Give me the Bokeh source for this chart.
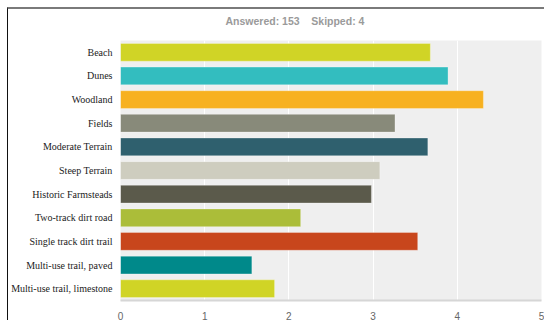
from bokeh.plotting import figure
from bokeh.models import FactorRange, Range1d, ColumnDataSource, FixedTicker, Title
from bokeh.embed import file_html
from bokeh.resources import INLINE

categories = ["Beach", "Dunes", "Woodland", "Fields", "Moderate Terrain", "Steep Terrain",
              "Historic Farmsteads", "Two-track dirt road", "Single track dirt trail",
              "Multi-use trail, paved", "Multi-use trail, limestone"]
values = [3.68, 3.89, 4.31, 3.26, 3.65, 3.08, 2.98, 2.14, 3.53, 1.56, 1.83]
colors = ["#d0d426", "#33bdbf", "#f7b120", "#888a7a", "#2f606e", "#cecdbf",
          "#5b5a4b", "#abbd39", "#c8461c", "#00898a", "#d0d426"]
x_ticks = [0, 1, 2, 3, 4, 5]
title_text = "Answered: 153\u00a0\u00a0\u00a0 Skipped: 4"

src = ColumnDataSource(dict(cat=categories, val=values, color=colors))

p = figure(width=537, height=313, output_backend="svg", toolbar_location=None,
           y_range=FactorRange(factors=list(reversed(categories))),
           x_range=Range1d(0, 5), title=title_text)
p.styles = {"border-top": "2px solid #7a7a7a", "border-left": "1px solid #111111",
            "margin-top": "7px", "margin-left": "7px"}

p.hbar(y="cat", right="val", left=0, height=0.75, fill_color="color",
       line_color="white", line_alpha=0.3, line_width=1, source=src)

p.min_border_left = 110
p.min_border_right = 4
p.min_border_top = 31
p.min_border_bottom = 20
p.background_fill_color = "#efefef"
p.border_fill_color = "white"
p.outline_line_color = None

# spacer between title and plot area
p.add_layout(Title(text=" ", text_font_size="8px", standoff=1), "above")

p.title.align = "left"
p.title.offset = 105
p.title.standoff = 4
p.title.text_color = "#9a9a9a"
p.title.text_font = "Liberation Sans"
p.title.text_font_size = "10.5px"
p.title.text_font_style = "bold"

p.xgrid.grid_line_color = "white"
p.xgrid.grid_line_width = 1
p.ygrid.grid_line_color = None

p.xaxis.ticker = FixedTicker(ticks=x_ticks)
p.xaxis.major_tick_line_color = None
p.xaxis.minor_tick_line_color = None
p.xaxis.axis_line_color = "#d6d6d6"
p.xaxis.axis_line_width = 2
p.xaxis.major_label_text_font = "Liberation Sans"
p.xaxis.major_label_text_font_size = "10px"
p.xaxis.major_label_text_color = "#666666"
p.xaxis.major_label_standoff = 5

p.yaxis.major_tick_line_color = None
p.yaxis.minor_tick_line_color = None
p.yaxis.axis_line_color = None
p.yaxis.major_label_text_font = "Liberation Serif"
p.yaxis.major_label_text_font_size = "10px"
p.yaxis.major_label_text_color = "#222222"
p.yaxis.major_label_standoff = 2

open("out.html", "w").write(file_html(p, INLINE))
